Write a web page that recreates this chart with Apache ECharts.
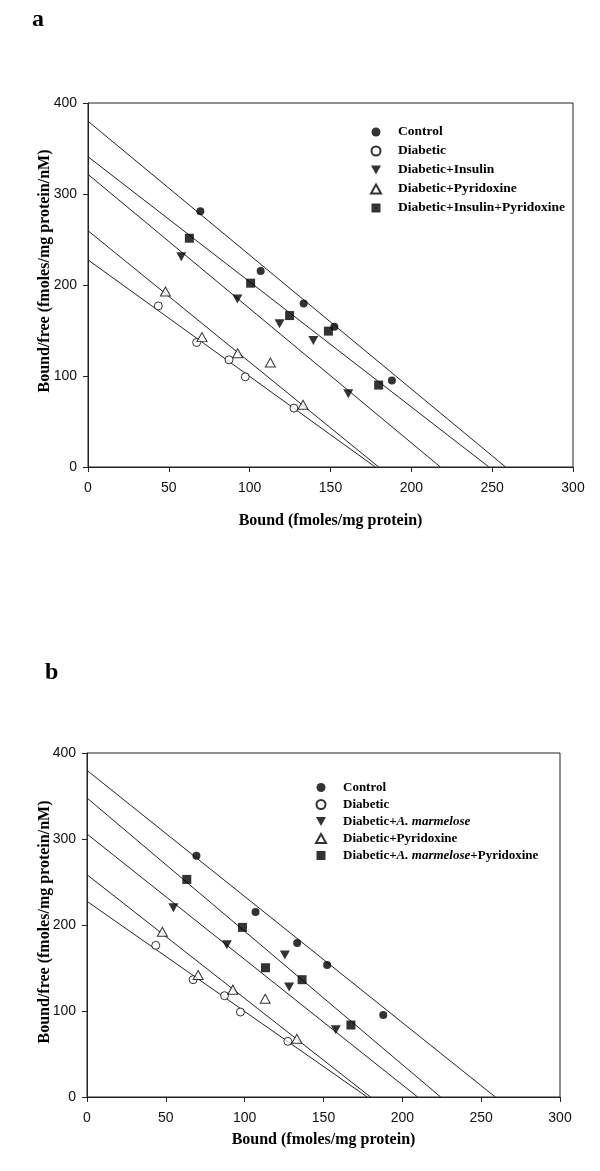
<!DOCTYPE html>
<html>
<head>
<meta charset="utf-8">
<script src="https://cdn.jsdelivr.net/npm/echarts@6/dist/echarts.min.js"></script>
<style>
html,body{margin:0;padding:0;background:#fff;}
#c{width:600px;height:1171px;}
</style>
</head>
<body>
<div id="c"></div>
<script>
// ---------- Panel a data ----------
const aControlX = [69.5, 106.8, 133.4, 152.4, 188];
const aControlY = [281, 215.5, 179.6, 154, 95];
const aDiabeticX = [43.5, 67.2, 87.2, 97.3, 127.4];
const aDiabeticY = [177, 136.8, 117.8, 99.1, 64.7];
const aInsulinX = [57.7, 92.4, 118.5, 139.4, 161];
const aInsulinY = [231, 184.7, 157.3, 139, 80.5];
const aPyrX = [47.9, 70.5, 92.6, 112.8, 133];
const aPyrY = [192.8, 142.7, 125, 114.8, 68.4];
const aInsPyrX = [62.7, 100.6, 124.7, 148.7, 179.8];
const aInsPyrY = [251.4, 202, 166.4, 149.3, 90];
// regression lines: [y-intercept, x-intercept]
const aLines = [[380, 258.3], [227.6, 177.7], [321.6, 218], [259.7, 179.8], [341, 248]];

// ---------- Panel b data ----------
const bControlX = [69.4, 106.9, 133.3, 152.3, 187.9];
const bControlY = [280.6, 215, 179, 153.5, 95.3];
const bDiabeticX = [43.6, 67.3, 87.2, 97.3, 127.4];
const bDiabeticY = [176.3, 136.4, 117.8, 98.8, 64.7];
const bMarmX = [54.8, 88.7, 125.5, 128.2, 157.8];
const bMarmY = [220, 177, 165, 127.9, 78.3];
const bPyrX = [47.8, 70.5, 92.5, 113, 133.1];
const bPyrY = [192.2, 141.8, 124.8, 114.3, 67.8];
const bMarmPyrX = [63.3, 98.6, 113.2, 136.4, 167.4];
const bMarmPyrY = [253, 197.2, 150.3, 136.4, 83.7];
const bLines = [[379.8, 259], [227.5, 177.7], [305.8, 209.7], [258.5, 179.8], [347.7, 224.3]];

const legendA = ['Control', 'Diabetic', 'Diabetic+Insulin', 'Diabetic+Pyridoxine', 'Diabetic+Insulin+Pyridoxine'];
const legendB = ['Control', 'Diabetic', 'Diabetic+A. marmelose', 'Diabetic+Pyridoxine', 'Diabetic+A. marmelose+Pyridoxine'];
const xTicks = {min: 0, max: 300, interval: 50};
const yTicks = {min: 0, max: 400, interval: 100};
const xTitle = 'Bound (fmoles/mg protein)';
const yTitle = 'Bound/free (fmoles/mg protein/nM)';

const pairs = (xs, ys) => xs.map((x, i) => [x, ys[i]]);
const DOWN = 'path://M0,0 L10,0 L5,9 Z';
const UP = 'path://M5,0 L10,9 L0,9 Z';
const SQUARE = 'path://M0,0 L10,0 L10,10 L0,10 Z';
const styles = [
  {symbol: 'circle', symbolSize: 8, itemStyle: {color: '#000'}},
  {symbol: 'circle', symbolSize: 8, itemStyle: {color: '#fff', borderColor: '#000', borderWidth: 1}},
  {symbol: DOWN, symbolSize: [10, 9], itemStyle: {color: '#000'}},
  {symbol: UP, symbolSize: [10, 9], itemStyle: {color: '#fff', borderColor: '#000', borderWidth: 1}},
  {symbol: SQUARE, symbolSize: 9, itemStyle: {color: '#000'}}
];

const serif = '"Liberation Serif","Times New Roman",serif';
const sans = '"Liberation Sans",Arial,sans-serif';

function axisPair(gridIndex, xGap, yGap, yPad) {
  const common = {
    type: 'value', gridIndex: gridIndex, nameLocation: 'middle', nameMoveOverlap: false,
    axisLine: {show: true, lineStyle: {color: '#222', width: 1}},
    axisTick: {show: true, inside: false, length: 5, lineStyle: {color: '#222'}},
    splitLine: {show: false},
    nameTextStyle: {fontFamily: serif, fontWeight: 'bold', fontSize: 16, color: '#000'}
  };
  const x = Object.assign({}, common, {
    min: xTicks.min, max: xTicks.max, interval: xTicks.interval,
    name: xTitle, nameGap: xGap,
    axisLabel: {fontFamily: sans, fontSize: 14, color: '#111', margin: 14}
  });
  const y = Object.assign({}, common, {
    min: yTicks.min, max: yTicks.max, interval: yTicks.interval,
    name: yTitle, nameGap: yGap,
    nameTextStyle: Object.assign({}, common.nameTextStyle, {padding: yPad}),
    axisLabel: {fontFamily: sans, fontSize: 14, color: '#111', margin: 11}
  });
  return [x, y];
}

const [xa, ya] = axisPair(0, 46, 35, [0, 0, 0, 28]);
const [xb, yb] = axisPair(1, 35, 34, [0, 0, 0, 6]);

const series = [];
function addPanel(idx, sets, names, lines) {
  lines.forEach(l => {
    series.push({
      type: 'line', xAxisIndex: idx, yAxisIndex: idx, silent: true,
      data: [[0, l[0]], [l[1], 0]], showSymbol: false, symbol: 'none',
      lineStyle: {color: '#222', width: 1}, z: 1, animation: false
    });
  });
  sets.forEach((s, i) => {
    series.push(Object.assign({
      type: 'scatter', name: names[i], xAxisIndex: idx, yAxisIndex: idx,
      data: pairs(s[0], s[1]), z: 5, animation: false
    }, styles[i]));
  });
}
addPanel(0, [[aControlX, aControlY], [aDiabeticX, aDiabeticY], [aInsulinX, aInsulinY], [aPyrX, aPyrY], [aInsPyrX, aInsPyrY]], legendA, aLines);
addPanel(1, [[bControlX, bControlY], [bDiabeticX, bDiabeticY], [bMarmX, bMarmY], [bPyrX, bPyrY], [bMarmPyrX, bMarmPyrY]], legendB, bLines);

function legendText(size) {
  return {
    fontFamily: serif, fontWeight: 'bold', fontSize: size, color: '#000',
    rich: {
      n: {fontFamily: serif, fontWeight: 'bold', fontSize: size, color: '#000'},
      i: {fontFamily: serif, fontWeight: 'bold', fontStyle: 'italic', fontSize: size, color: '#000'}
    }
  };
}
function fmt(name) {
  if (name.indexOf('A. marmelose') < 0) return '{n|' + name + '}';
  const parts = name.split('A. marmelose');
  let s = '';
  if (parts[0]) s += '{n|' + parts[0] + '}';
  s += '{i|A. marmelose}';
  if (parts[1]) s += '{n|' + parts[1] + '}';
  return s;
}

const option = {
  backgroundColor: '#fff',
  animation: false,
  title: [
    {text: 'a', left: 32, top: 8, padding: 0, textStyle: {fontFamily: serif, fontWeight: 'bold', fontSize: 24, color: '#000'}},
    {text: 'b', left: 45, top: 661, padding: 0, textStyle: {fontFamily: serif, fontWeight: 'bold', fontSize: 24, color: '#000'}}
  ],
  grid: [
    {left: 88, top: 103, width: 485, height: 364, show: true, borderColor: '#222', borderWidth: 1, backgroundColor: 'transparent'},
    {left: 87, top: 753, width: 473, height: 344, show: true, borderColor: '#222', borderWidth: 1, backgroundColor: 'transparent'}
  ],
  xAxis: [xa, xb],
  yAxis: [ya, yb],
  legend: [
    {data: legendA, orient: 'vertical', left: 370, top: 125, padding: 0, itemWidth: 34, itemHeight: 9, itemGap: 5,
     selectedMode: false, textStyle: legendText(13.5), formatter: fmt},
    {data: legendB, orient: 'vertical', left: 315, top: 781, padding: 0, itemWidth: 34, itemHeight: 9, itemGap: 4,
     selectedMode: false, textStyle: legendText(13), formatter: fmt}
  ],
  series: series
};

const chart = echarts.init(document.getElementById('c'), null, {renderer: 'canvas'});
chart.setOption(option);
</script>
</body>
</html>
